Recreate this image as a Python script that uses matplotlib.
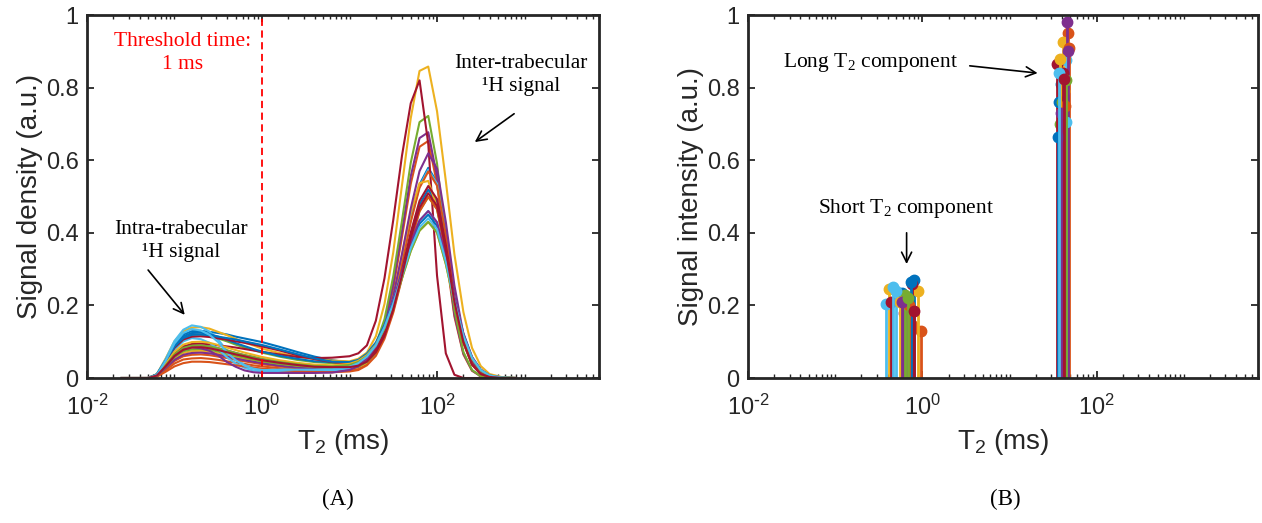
import matplotlib
matplotlib.use("Agg")
import matplotlib.pyplot as plt
from matplotlib.ticker import FixedLocator, LogLocator, NullFormatter, FixedFormatter

plt.rcParams["font.family"] = ["Liberation Sans", "DejaVu Sans"]
plt.rcParams["mathtext.default"] = "regular"
plt.rcParams["axes.unicode_minus"] = False

# ---------------- data ----------------
# T2 relaxation grid (ms) of the inverted distributions
t2_ms = [0.025, 0.040, 0.050, 0.063, 0.079, 0.100, 0.126, 0.158, 0.200, 0.251,
         0.316, 0.398, 0.501, 0.631, 0.794, 1.00, 1.58, 2.51, 3.98, 6.31,
         10.0, 12.6, 15.8, 20.0, 25.1, 31.6, 39.8, 50.1, 63.1, 79.4,
         100, 126, 158, 200, 251, 316, 398, 562, 794]

# T2 signal density of each specimen
sample_01 = [0, 0, 0, .010, .049, .094, .120, .129, .130, .127, .124, .120, .114, .109, .104, .099, .086, .072, .059,
             .049, .043, .045, .058, .086, .138, .219, .325, .439, .533, .579, .539, .402, .238, .113, .042, .013, .003, 0, 0]
sample_02 = [0, 0, 0, .004, .021, .040, .051, .054, .055, .053, .050, .046, .042, .039, .035, .032, .027, .023, .020,
             .019, .020, .025, .038, .072, .138, .247, .389, .535, .637, .653, .535, .341, .169, .065, .020, .005, .001, 0, 0]
sample_03 = [0, 0, 0, .011, .053, .101, .129, .139, .140, .136, .127, .118, .108, .098, .090, .081, .069, .059, .052,
             .048, .046, .053, .070, .115, .204, .346, .532, .716, .846, .858, .735, .543, .341, .182, .083, .033, .011, .002, 0]
sample_04 = [0, 0, 0, .007, .034, .065, .083, .089, .090, .087, .082, .076, .069, .063, .058, .052, .044, .038, .033,
             .031, .031, .035, .048, .082, .149, .260, .405, .556, .661, .677, .555, .353, .175, .068, .021, .005, .001, 0, 0]
sample_05 = [0, 0, 0, .010, .046, .086, .110, .119, .120, .116, .109, .101, .092, .084, .077, .070, .059, .050, .044,
             .041, .040, .044, .057, .092, .162, .280, .434, .593, .705, .722, .591, .377, .187, .072, .022, .005, .001, 0, 0]
sample_06 = [0, 0, 0, .010, .051, .102, .133, .145, .141, .128, .106, .075, .052, .036, .028, .023, .023, .025, .025,
             .026, .029, .035, .049, .078, .132, .213, .320, .434, .528, .574, .535, .398, .236, .112, .042, .013, .003, 0, 0]
sample_07 = [0, 0, 0, .008, .036, .068, .087, .094, .095, .093, .090, .087, .084, .080, .076, .072, .065, .058, .055,
             .056, .060, .068, .090, .158, .275, .435, .613, .757, .820, .645, .282, .068, .009, 0, 0, 0, 0, 0, 0]
sample_08 = [0, 0, 0, .010, .048, .090, .115, .124, .125, .121, .114, .105, .096, .088, .080, .073, .061, .053, .046,
             .044, .043, .045, .057, .081, .125, .197, .292, .394, .478, .519, .484, .360, .214, .101, .038, .011, .003, 0, 0]
sample_09 = [0, 0, 0, .005, .025, .047, .060, .064, .065, .063, .059, .055, .050, .046, .042, .038, .032, .027, .024,
             .023, .024, .029, .043, .072, .125, .208, .315, .430, .524, .569, .530, .395, .234, .111, .042, .013, .003, 0, 0]
sample_10 = [0, 0, 0, .006, .029, .054, .069, .074, .075, .073, .068, .063, .058, .053, .048, .044, .037, .032, .028,
             .026, .025, .030, .042, .071, .128, .220, .339, .457, .537, .543, .470, .347, .218, .117, .053, .021, .007, .001, 0]
sample_11 = [0, 0, 0, .006, .027, .050, .064, .069, .070, .068, .064, .059, .054, .049, .045, .041, .034, .029, .026,
             .025, .026, .031, .047, .078, .136, .225, .342, .467, .570, .619, .577, .430, .255, .120, .045, .014, .003, 0, 0]
sample_12 = [0, 0, 0, .006, .030, .058, .074, .079, .080, .078, .073, .067, .062, .056, .051, .046, .039, .034, .030,
             .028, .029, .032, .044, .069, .114, .185, .278, .377, .460, .499, .465, .347, .206, .097, .037, .011, .003, 0, 0]
sample_13 = [0, 0, 0, .008, .039, .077, .101, .110, .107, .097, .080, .057, .040, .028, .021, .018, .018, .019, .019,
             .020, .027, .038, .057, .090, .142, .211, .294, .373, .434, .460, .429, .336, .222, .123, .058, .023, .007, .001, 0]
sample_14 = [0, 0, 0, .009, .044, .083, .106, .114, .115, .113, .109, .106, .101, .097, .092, .087, .076, .063, .052,
             .044, .039, .041, .052, .078, .126, .200, .296, .401, .488, .529, .493, .367, .218, .103, .039, .012, .003, 0, 0]
sample_15 = [0, 0, 0, .010, .046, .086, .110, .119, .120, .118, .114, .110, .106, .101, .096, .091, .079, .066, .054,
             .045, .044, .050, .067, .098, .146, .212, .290, .367, .425, .450, .419, .329, .217, .120, .056, .022, .007, .001, 0]
sample_16 = [0, 0, 0, .004, .017, .032, .041, .045, .045, .044, .041, .038, .035, .032, .029, .026, .022, .019, .017,
             .016, .018, .022, .035, .061, .108, .180, .275, .376, .459, .499, .465, .347, .206, .097, .037, .011, .003, 0, 0]
sample_17 = [0, 0, 0, .008, .038, .072, .092, .099, .100, .097, .091, .084, .077, .070, .064, .058, .049, .042, .037,
             .035, .039, .047, .063, .092, .138, .201, .276, .350, .406, .430, .401, .314, .207, .115, .054, .021, .007, .001, 0]
sample_18 = [0, 0, 0, .006, .030, .060, .078, .085, .082, .075, .062, .044, .031, .021, .016, .014, .014, .014, .014,
             .015, .022, .033, .053, .087, .139, .209, .292, .373, .434, .460, .429, .336, .222, .123, .058, .023, .007, .001, 0]
sample_19 = [0, 0, 0, .007, .034, .065, .083, .089, .090, .087, .082, .076, .069, .063, .058, .052, .044, .038, .033,
             .032, .036, .044, .060, .090, .136, .200, .275, .350, .406, .430, .401, .314, .207, .115, .054, .021, .007, .001, 0]
sample_20 = [0, 0, 0, .009, .047, .095, .124, .135, .131, .119, .099, .070, .049, .034, .026, .022, .022, .023, .023,
             .024, .031, .041, .059, .090, .140, .205, .282, .358, .415, .440, .410, .322, .212, .117, .055, .022, .007, .001, 0]
sample_21 = [0, 0, 0, .007, .032, .061, .078, .084, .085, .082, .077, .071, .065, .060, .054, .049, .042, .036, .031,
             .030, .030, .034, .045, .071, .116, .189, .283, .386, .469, .509, .474, .353, .210, .099, .037, .011, .003, 0, 0]

density_samples = [sample_01, sample_02, sample_03, sample_04, sample_05, sample_06, sample_07,
                   sample_08, sample_09, sample_10, sample_11, sample_12, sample_13, sample_14,
                   sample_15, sample_16, sample_17, sample_18, sample_19, sample_20, sample_21]

# Two-component fit of each specimen: T2 (ms) and signal intensity
short_t2 = [0.59, 0.77, 0.41, 0.62, 0.71, 0.38, 0.44, 0.81, 0.97, 0.90, 0.66,
            0.64, 0.50, 0.77, 0.74, 0.70, 0.55, 0.58, 0.68, 0.46, 0.80]
short_amp = [0.235, 0.145, 0.245, 0.180, 0.195, 0.205, 0.210, 0.270, 0.130, 0.240, 0.170,
             0.230, 0.240, 0.260, 0.265, 0.200, 0.210, 0.210, 0.220, 0.250, 0.185]
long_t2 = [39, 47, 41, 46, 38, 44, 35, 37, 48, 42, 47,
           40, 45, 41, 36, 43, 38, 39, 44, 37, 42]
long_amp = [0.81, 0.95, 0.925, 0.98, 0.70, 0.875, 0.865, 0.76, 0.91, 0.79, 0.90,
            0.76, 0.705, 0.84, 0.665, 0.75, 0.88, 0.73, 0.82, 0.84, 0.825]

threshold_ms = 1.0
x_major = [1e-2, 1e0, 1e2]
x_major_labels = ["$10^{\\text{-}2}$", "$10^{0}$", "$10^{2}$"]
y_ticks = [0, 0.2, 0.4, 0.6, 0.8, 1.0]
y_tick_labels = ["0", "0.2", "0.4", "0.6", "0.8", "1"]

# ---------------- style ----------------
palette = ["#0072BD", "#D95319", "#EDB120", "#7E2F8E", "#77AC30", "#4DBEEE", "#A2142F"]
axis_color = "#262626"
serif = ["Liberation Serif", "DejaVu Serif"]
tick_fs = 17
label_fs = 20
note_fs = 15.5

fig = plt.figure(figsize=(12.62, 5.23), dpi=100)
ax_a = fig.add_axes([0.0689, 0.2772, 0.4057, 0.6941])
ax_b = fig.add_axes([0.5927, 0.2772, 0.4041, 0.6941])


def style_axes(ax, ylabel):
    ax.set_xscale("log")
    ax.set_xlim(1e-2, 7.08e3)
    ax.set_ylim(0, 1)
    ax.xaxis.set_major_locator(FixedLocator(x_major))
    ax.xaxis.set_major_formatter(FixedFormatter(x_major_labels))
    ax.xaxis.set_minor_locator(LogLocator(base=10, subs=range(1, 10), numticks=30))
    ax.xaxis.set_minor_formatter(NullFormatter())
    ax.yaxis.set_major_locator(FixedLocator(y_ticks))
    ax.yaxis.set_major_formatter(FixedFormatter(y_tick_labels))
    ax.tick_params(which="both", direction="in", top=True, right=True,
                   color=axis_color, labelcolor=axis_color, labelsize=tick_fs)
    ax.tick_params(which="major", length=5, width=1.3)
    ax.tick_params(which="minor", length=3, width=1.0)
    ax.tick_params(axis="x", which="major", pad=12)
    ax.tick_params(axis="y", which="major", pad=6)
    for sp in ax.spines.values():
        sp.set_linewidth(2.0)
        sp.set_color(axis_color)
    ax.set_xlabel("T$_2$ (ms)", fontsize=label_fs, color=axis_color, labelpad=5)
    ax.set_ylabel(ylabel, fontsize=label_fs, color=axis_color, labelpad=2)


arrow_kw = dict(arrowstyle="->", lw=1.2, color="black", mutation_scale=18, shrinkA=0, shrinkB=0)

# ---- (A) T2 distributions ----
style_axes(ax_a, "Signal density (a.u.)")
for i, curve in enumerate(density_samples):
    ax_a.plot(t2_ms, curve, color=palette[i % 7], lw=1.5, solid_joinstyle="round")
ax_a.axvline(threshold_ms, color="#FF0000", lw=1.3, ls=(0, (4, 2.5)))

ax_a.text(0.123, 0.895, "Threshold time:\n1 ms", color="#FF0000", family=serif,
          fontsize=note_fs, ha="center", va="center", linespacing=1.25)
ax_a.text(910, 0.835, "Inter-trabecular\n\u00b9H signal", family=serif, fontsize=note_fs,
          ha="center", va="center", linespacing=1.25)
ax_a.annotate("", xy=(270, 0.65), xytext=(760, 0.728), arrowprops=arrow_kw)
ax_a.text(0.12, 0.377, "Intra-trabecular\n\u00b9H signal", family=serif, fontsize=note_fs,
          ha="center", va="center", linespacing=1.25)
ax_a.annotate("", xy=(0.131, 0.174), xytext=(0.05, 0.2975), arrowprops=arrow_kw)

# ---- (B) two-component stems ----
style_axes(ax_b, "Signal intensity (a.u.)")
for i in range(len(short_t2)):
    c = palette[i % 7]
    for x, y in ((short_t2[i], short_amp[i]), (long_t2[i], long_amp[i])):
        ax_b.plot([x, x], [0, y], color=c, lw=2.0, solid_capstyle="butt")
        ax_b.plot([x], [y], marker="o", ms=7.5, color=c, mec=c)

ax_b.text(0.257, 0.87, "Long T$_2$ component", family=serif, fontsize=note_fs,
          ha="center", va="center")
ax_b.annotate("", xy=(21, 0.84), xytext=(3.5, 0.86), arrowprops=arrow_kw)
ax_b.text(0.65, 0.466, "Short T$_2$ component", family=serif, fontsize=note_fs,
          ha="center", va="center")
ax_b.annotate("", xy=(0.66, 0.314), xytext=(0.66, 0.40), arrowprops=arrow_kw)

fig.text(0.2675, 0.045, "(A)", family=serif, fontsize=16.5, ha="center", va="center")
fig.text(0.7965, 0.045, "(B)", family=serif, fontsize=16.5, ha="center", va="center")

fig.savefig("out.png", dpi=100, facecolor="white")
